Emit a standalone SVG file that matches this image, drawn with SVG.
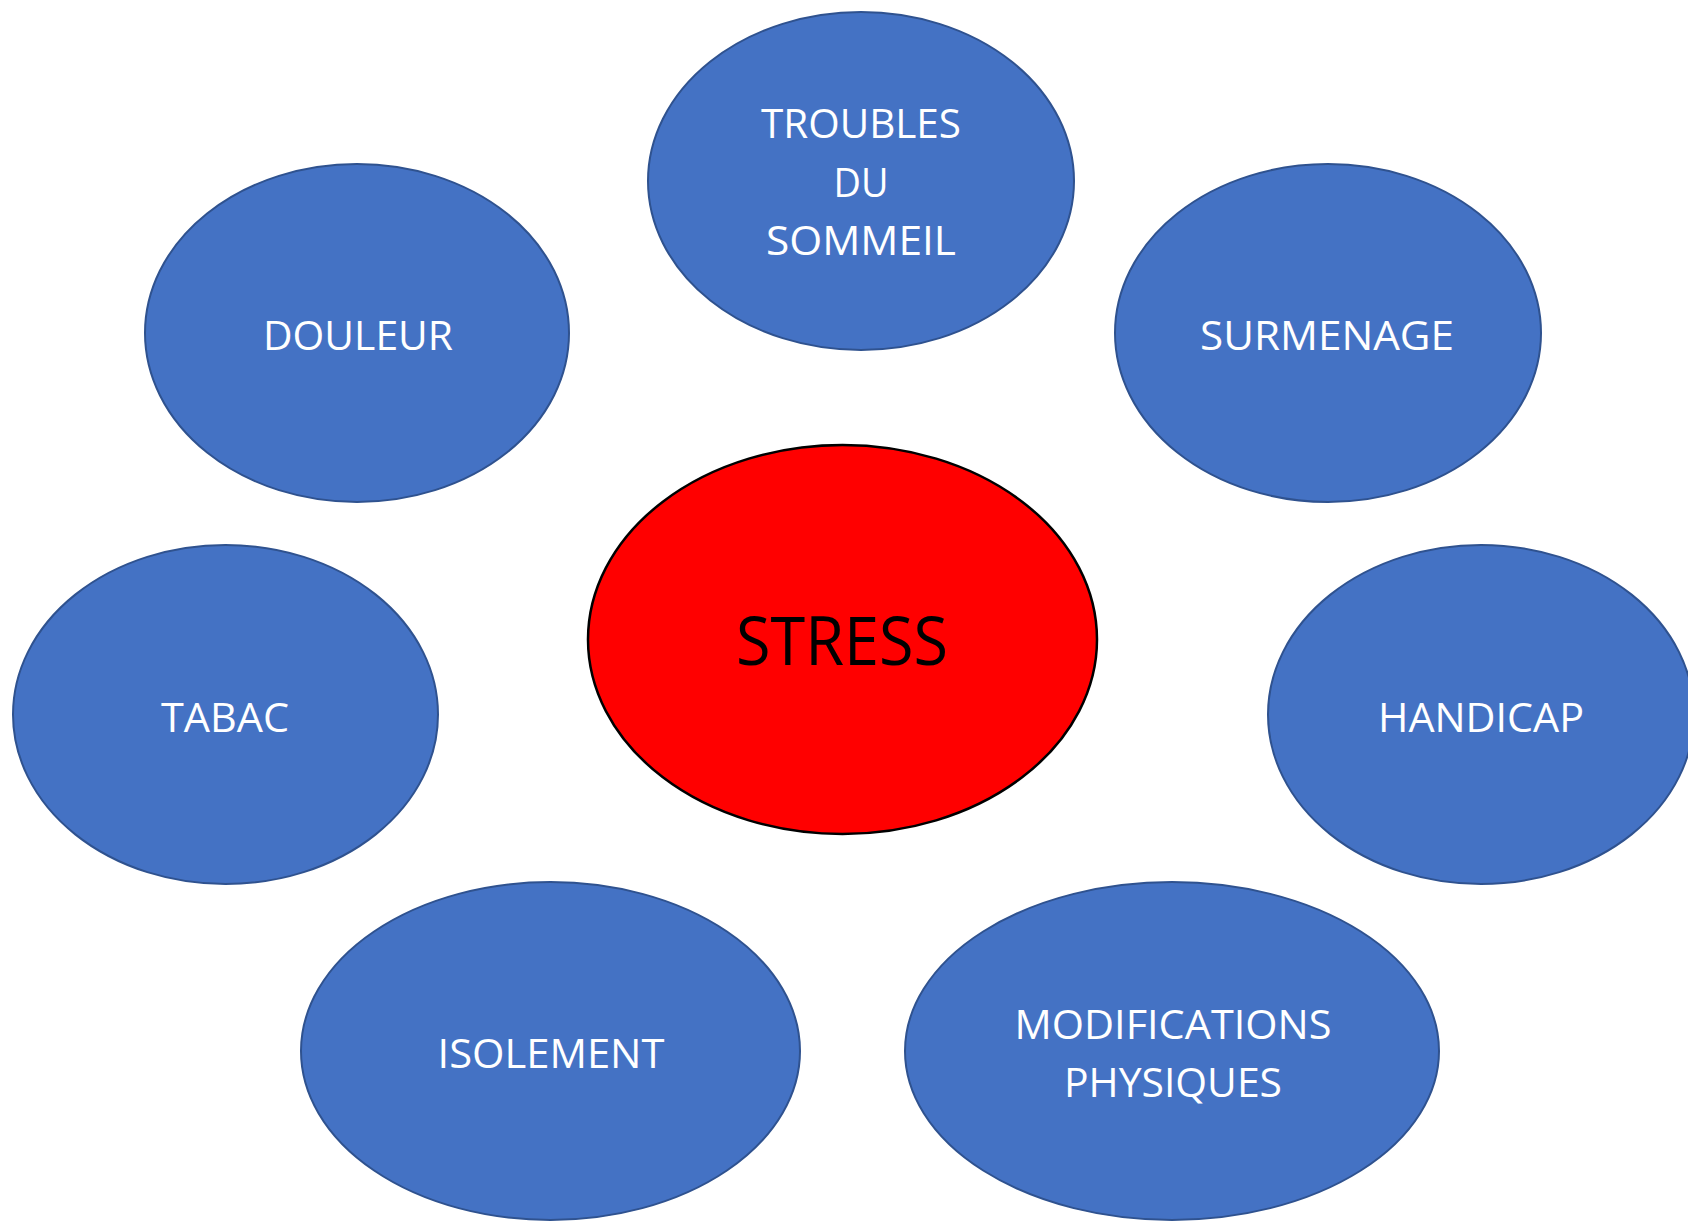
<svg xmlns="http://www.w3.org/2000/svg" width="1688" height="1221" viewBox="0 0 1688 1221">
<style>
.n ellipse{fill:#4472C4;stroke:#2F528F;stroke-width:2}
.n text{fill:#FFFFFF;font-family:"Open Sans","Noto Sans","Liberation Sans",sans-serif;font-size:41px;text-anchor:middle}
#stress ellipse{fill:#FF0000;stroke:#000000;stroke-width:2.5}
#stress text{fill:#000000;font-family:"Open Sans","Noto Sans","Liberation Sans",sans-serif;font-size:67px;text-anchor:middle}
</style>
<rect width="1688" height="1221" fill="#FFFFFF"/>
<g id="connectors"></g>
<g id="troubles" class="n">
<ellipse cx="861" cy="181" rx="213" ry="169"/>
<text x="861" y="138" textLength="200" lengthAdjust="spacingAndGlyphs">TROUBLES</text>
<text x="861" y="197" textLength="55" lengthAdjust="spacingAndGlyphs">DU</text>
<text x="861" y="255" textLength="190" lengthAdjust="spacingAndGlyphs">SOMMEIL</text>
</g>
<g id="douleur" class="n">
<ellipse cx="357" cy="333" rx="212" ry="169"/>
<text x="358" y="350" textLength="190" lengthAdjust="spacingAndGlyphs">DOULEUR</text>
</g>
<g id="surmenage" class="n">
<ellipse cx="1328" cy="333" rx="213" ry="169"/>
<text x="1327" y="350" textLength="254" lengthAdjust="spacingAndGlyphs">SURMENAGE</text>
</g>
<g id="tabac" class="n">
<ellipse cx="225.5" cy="714.5" rx="212.5" ry="169.5"/>
<text x="225" y="732" textLength="128" lengthAdjust="spacingAndGlyphs">TABAC</text>
</g>
<g id="handicap" class="n">
<ellipse cx="1481" cy="714.5" rx="213" ry="169.5"/>
<text x="1481" y="732" textLength="206" lengthAdjust="spacingAndGlyphs">HANDICAP</text>
</g>
<g id="isolement" class="n">
<ellipse cx="550.5" cy="1051" rx="249.5" ry="169"/>
<text x="551" y="1068" textLength="227" lengthAdjust="spacingAndGlyphs">ISOLEMENT</text>
</g>
<g id="modifications" class="n">
<ellipse cx="1172" cy="1051" rx="267" ry="169"/>
<text x="1173" y="1039" textLength="317" lengthAdjust="spacingAndGlyphs">MODIFICATIONS</text>
<text x="1173" y="1097" textLength="218" lengthAdjust="spacingAndGlyphs">PHYSIQUES</text>
</g>
<g id="stress">
<ellipse cx="842.5" cy="639.5" rx="254.5" ry="194.5"/>
<text x="842" y="665" textLength="212" lengthAdjust="spacingAndGlyphs">STRESS</text>
</g>
</svg>
